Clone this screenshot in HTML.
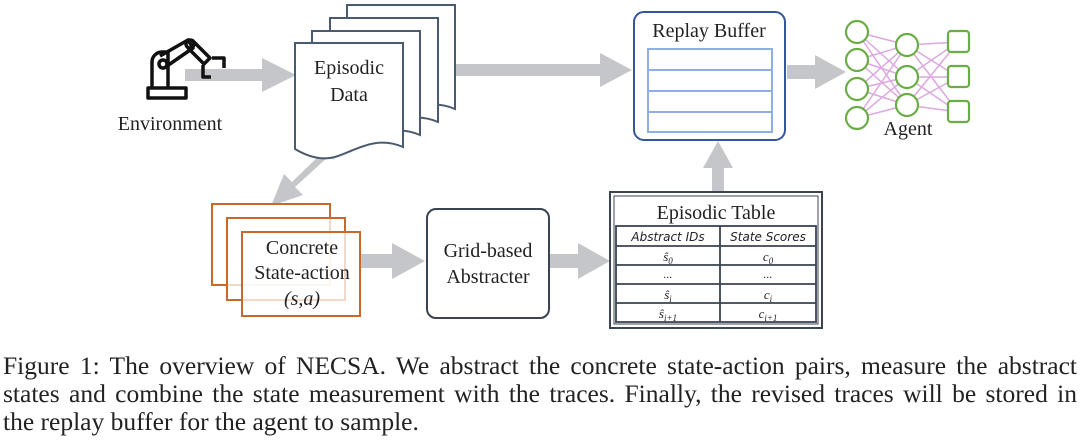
<!DOCTYPE html>
<html><head><meta charset="utf-8"><style>
html,body{margin:0;padding:0;background:#fff;}
svg{display:block;position:absolute;left:0;top:0;}
text{font-family:"Liberation Serif",serif;fill:#222;}
.cap{position:absolute;left:3px;width:1074px;font-family:"Liberation Serif",serif;font-size:25.5px;color:#222;white-space:nowrap;line-height:28px;}
.j{text-align:justify;text-align-last:justify;white-space:normal;}
</style></head><body>
<svg width="1080" height="443" viewBox="0 0 1080 443" xmlns="http://www.w3.org/2000/svg">
<defs>
<path id="doc" d="M0,0 H108 V104 C80,92 60,108 40,114 C25,118 10,112 0,106 Z"/>
</defs>
<g fill="#c4c6ca">
<polygon points="185,69 262,69 262,58 296,75 262,92 262,81 185,81"/>
<polygon points="455,64 600,64 600,53 632,70 600,87 600,76 455,76"/>
<polygon points="787,65 815,65 815,55 846,72 815,89 815,79 787,79"/>
<polygon points="712,192 712,168 703,168 718,141 733,168 724,168 724,192"/>
<polygon points="335,160 325,150 292,182 284,174 271,206 303,195 295,187 328,157"/>
<polygon points="360,254 392,254 392,243 425,261 392,279 392,268 360,268"/>
<polygon points="550,254 578,254 578,243 610,261 578,279 578,268 550,268"/>
</g>
<g fill="none" stroke="#111" stroke-width="3.5" stroke-linejoin="round">
<rect x="148" y="88" width="38" height="10"/>
<path d="M152,88 V62 a10,10 0 0 1 10,-10 h6 V88"/>
<circle cx="163" cy="64" r="4"/>
<path d="M160,56 L188,40 L193,48 L167,66"/>
<circle cx="190" cy="44" r="4"/>
<path d="M192,40 L210,58 L204,64 L188,48"/>
<path d="M203,65 v12 h8 M212,58 h12 v10"/>
</g>
<text x="170" y="130" font-size="20" text-anchor="middle">Environment</text>
<g fill="#fff" stroke="#4a5a70" stroke-width="2">
<use href="#doc" x="347" y="5"/>
<use href="#doc" x="330" y="18"/>
<use href="#doc" x="312" y="31"/>
<use href="#doc" x="295" y="43"/>
</g>
<text x="349" y="74" font-size="20" text-anchor="middle">Episodic</text>
<text x="349" y="101" font-size="20" text-anchor="middle">Data</text>
<rect x="634" y="12" width="151" height="128" rx="10" fill="#fff" stroke="#34569a" stroke-width="2"/>
<text x="709" y="37" font-size="20" text-anchor="middle">Replay Buffer</text>
<g fill="#fff" stroke="#8eaee6" stroke-width="2">
<rect x="648" y="49" width="124" height="21"/>
<rect x="648" y="70" width="124" height="21"/>
<rect x="648" y="91" width="124" height="21"/>
<rect x="648" y="112" width="124" height="20"/>
</g>
<g stroke="#dca8e0" stroke-width="1.5">
<line x1="857" y1="32" x2="907" y2="45"/><line x1="857" y1="32" x2="907" y2="77"/><line x1="857" y1="32" x2="907" y2="105"/>
<line x1="857" y1="60" x2="907" y2="45"/><line x1="857" y1="60" x2="907" y2="77"/><line x1="857" y1="60" x2="907" y2="105"/>
<line x1="857" y1="89" x2="907" y2="45"/><line x1="857" y1="89" x2="907" y2="77"/><line x1="857" y1="89" x2="907" y2="105"/>
<line x1="857" y1="118" x2="907" y2="45"/><line x1="857" y1="118" x2="907" y2="77"/><line x1="857" y1="118" x2="907" y2="105"/>
<line x1="907" y1="45" x2="958" y2="42"/><line x1="907" y1="45" x2="958" y2="77"/><line x1="907" y1="45" x2="958" y2="112"/>
<line x1="907" y1="77" x2="958" y2="42"/><line x1="907" y1="77" x2="958" y2="77"/><line x1="907" y1="77" x2="958" y2="112"/>
<line x1="907" y1="105" x2="958" y2="42"/><line x1="907" y1="105" x2="958" y2="77"/><line x1="907" y1="105" x2="958" y2="112"/>
</g>
<g fill="#fff" stroke="#6aad45" stroke-width="2.2">
<circle cx="857" cy="32" r="11"/><circle cx="857" cy="60" r="11"/><circle cx="857" cy="89" r="11"/><circle cx="857" cy="118" r="11"/>
<circle cx="907" cy="45" r="11"/><circle cx="907" cy="77" r="11"/><circle cx="907" cy="105" r="11"/>
<rect x="948" y="31" width="21" height="21" rx="3"/><rect x="948" y="66" width="21" height="21" rx="3"/><rect x="948" y="101" width="21" height="21" rx="3"/>
</g>
<text x="908" y="135" font-size="20" text-anchor="middle">Agent</text>
<g fill="#fff" fill-opacity="0.75" stroke="#c8692a" stroke-width="2">
<rect x="212" y="204" width="118" height="81"/>
<rect x="227" y="218" width="118" height="82"/>
<rect x="242" y="232" width="118" height="84"/>
</g>
<text x="302" y="254" font-size="20" text-anchor="middle">Concrete</text>
<text x="302" y="279" font-size="20" text-anchor="middle">State-action</text>
<text x="302" y="305" font-size="20" text-anchor="middle" font-style="italic">(s,a)</text>
<rect x="427" y="209" width="122" height="109" rx="9" fill="#fff" stroke="#3a4452" stroke-width="2"/>
<text x="488" y="257" font-size="20" text-anchor="middle">Grid-based</text>
<text x="488" y="283" font-size="20" text-anchor="middle">Abstracter</text>
<rect x="610" y="192" width="212" height="136" fill="#fff" stroke="#3a4452" stroke-width="2"/>
<rect x="614" y="196" width="204" height="128" fill="none" stroke="#3a4452" stroke-width="1"/>
<text x="716" y="219" font-size="20" text-anchor="middle">Episodic Table</text>
<g fill="none" stroke="#3a4452" stroke-width="1.8">
<rect x="616" y="226" width="200" height="96"/>
<line x1="616" y1="246" x2="816" y2="246"/>
<line x1="616" y1="265" x2="816" y2="265"/>
<line x1="616" y1="284" x2="816" y2="284"/>
<line x1="616" y1="303" x2="816" y2="303"/>
<line x1="720" y1="226" x2="720" y2="322"/>
</g>
<g font-size="12" font-style="italic" text-anchor="middle">
<text x="668" y="241" style="font-family:'DejaVu Sans',sans-serif">Abstract IDs</text>
<text x="768" y="241" style="font-family:'DejaVu Sans',sans-serif">State Scores</text>
<text x="668" y="261" font-size="13">ŝ<tspan font-size="9" dy="3">0</tspan></text>
<text x="768" y="261" font-size="13">c<tspan font-size="9" dy="3">0</tspan></text>
<text x="668" y="278">...</text>
<text x="768" y="278">...</text>
<text x="668" y="299" font-size="13">ŝ<tspan font-size="9" dy="3">i</tspan></text>
<text x="768" y="299" font-size="13">c<tspan font-size="9" dy="3">i</tspan></text>
<text x="668" y="318" font-size="13">ŝ<tspan font-size="9" dy="3">i+1</tspan></text>
<text x="768" y="318" font-size="13">c<tspan font-size="9" dy="3">i+1</tspan></text>
</g>
</svg>
<div class="cap j" style="top:352px">Figure 1: The overview of NECSA. We abstract the concrete state-action pairs, measure the abstract</div>
<div class="cap j" style="top:380px">states and combine the state measurement with the traces. Finally, the revised traces will be stored in</div>
<div class="cap" style="top:408px">the replay buffer for the agent to sample.</div>
</body></html>
